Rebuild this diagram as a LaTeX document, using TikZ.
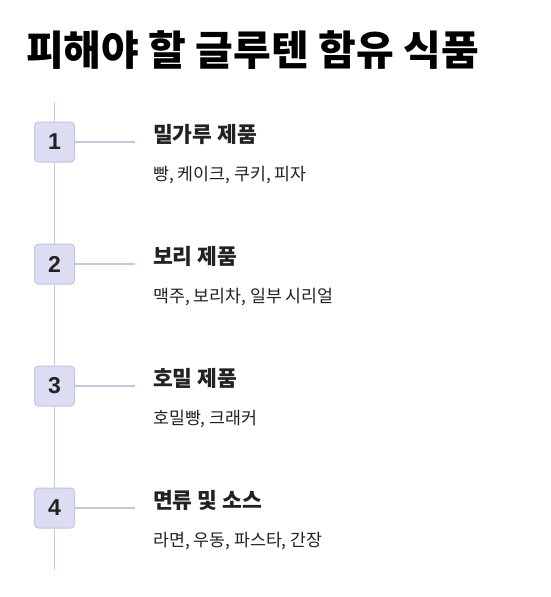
\documentclass[tikz,border=0pt]{standalone}
\usepackage{fontspec}
\setmainfont{Noto Sans CJK KR}
\newfontfamily\krfont{Noto Sans CJK KR}
\newfontfamily\numfont{Liberation Sans}
\definecolor{linec}{HTML}{C6C6DE}
\definecolor{boxfill}{HTML}{DCDCF2}
\definecolor{boxdraw}{HTML}{C4C4E2}
\definecolor{txt}{HTML}{222222}
\tikzset{
  numbox/.style={draw=boxdraw, fill=boxfill, line width=1pt, rounded corners=4pt,
    minimum width=40pt, minimum height=40pt, inner sep=0pt,
    font=\numfont\bfseries\fontsize{23}{23}\selectfont, text=txt},
  heading/.style={anchor=base west, inner sep=0pt, text=txt,
    font=\krfont\bfseries\fontsize{21.5}{24}\selectfont},
  sub/.style={anchor=base west, inner sep=0pt, text=txt,
    font=\krfont\fontsize{17.3}{20}\selectfont},
  conn/.style={draw=linec, line width=1.5pt}
}
\begin{document}
\begin{tikzpicture}[x=1pt,y=-1pt]
\useasboundingbox (0,0) rectangle (550,597);
\node[anchor=base, inner sep=0pt, text=black, font=\krfont\bfseries\fontsize{41}{46}\selectfont] (title) at (252.5,65) {피해야 할 글루텐 함유 식품};
\coordinate (top) at (54.5,102);
\coordinate (bot) at (54.5,570);
\draw[conn] (top) -- (bot);
\foreach \i/\y/\h/\s in {1/142/밀가루 제품/{빵, 케이크, 쿠키, 피자},
                          2/264/보리 제품/{맥주, 보리차, 일부 시리얼},
                          3/386/호밀 제품/{호밀빵, 크래커},
                          4/508/면류 및 소스/{라면, 우동, 파스타, 간장}}{
  \node[numbox] (b\i) at (54.5,\y) {\i};
  \coordinate (e\i) at (135,\y);
  \draw[conn] (b\i.east) -- (e\i);
  \node[heading] (h\i) at (153,\y) {\h};
  \node[sub] (s\i) at (153,\y+38) {\s};
}
\end{tikzpicture}
\end{document}
